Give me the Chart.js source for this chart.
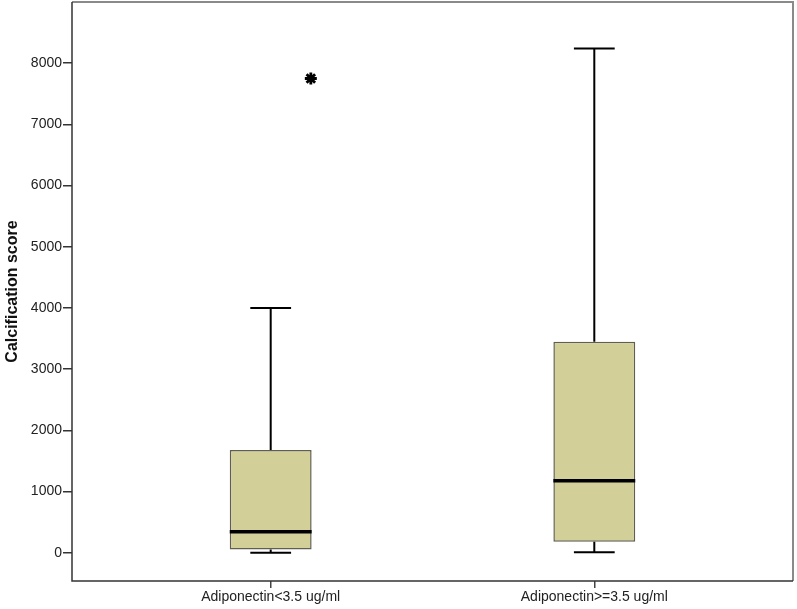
<!DOCTYPE html>
<html lang="en">
<head>
    <meta charset="UTF-8">
    <title>Calcification score by adiponectin</title>
    <style>
        html, body { margin: 0; padding: 0; background: #fff; }
    </style>
</head>
<body>
<canvas id="myChart" width="797" height="609"></canvas>

<script src="https://cdn.jsdelivr.net/npm/chart.js@4/dist/chart.umd.min.js"></script>
<script>
    // ------------------------------------------------------------------ data

    var groups = ['Adiponectin<3.5 ug/ml', 'Adiponectin>=3.5 ug/ml']
    var whiskerLow = [0, 10]
    var q1 = [55, 180]
    var median = [343, 1176]
    var q3 = [1680, 3448]
    var whiskerHigh = [4000, 8240]
    var outliers = [[7750], []]
    var yTicks = [0, 1000, 2000, 3000, 4000, 5000, 6000, 7000, 8000]

    // ----------------------------------------------------------------- style

    var boxHalf = 0.1265    // half box width, in category units
    var capHalf = 0.063     // half whisker cap width
    var outlierShift = 0.124
    var boxFill = '#d3cf99'
    var boxEdge = '#5f5f50'
    var font = 'Liberation Sans, Arial, sans-serif'

    // ------------------------------------------------------- build segments

    var whiskerPts = []
    var capPts = []
    var medianPts = []
    var boxPts = []
    var outlierPts = []

    groups.forEach(function (g, i) {
      var x = i + 1
      boxPts.push({ x: x, y: [q1[i], q3[i]] })
      whiskerPts.push({ x: x, y: q3[i] }, { x: x, y: whiskerHigh[i] }, { x: x, y: null })
      whiskerPts.push({ x: x, y: whiskerLow[i] }, { x: x, y: q1[i] }, { x: x, y: null })
      capPts.push({ x: x - capHalf, y: whiskerHigh[i] }, { x: x + capHalf, y: whiskerHigh[i] }, { x: x, y: null })
      capPts.push({ x: x - capHalf, y: whiskerLow[i] }, { x: x + capHalf, y: whiskerLow[i] }, { x: x, y: null })
      medianPts.push({ x: x - boxHalf, y: median[i] }, { x: x + boxHalf, y: median[i] }, { x: x, y: null })
      outliers[i].forEach(function (v) {
        outlierPts.push({ x: x + outlierShift, y: v })
      })
    })

    // frame round the plot area
    var framePlugin = {
      id: 'frame',
      afterDraw: function (chart) {
        var a = chart.chartArea
        var c = chart.ctx
        c.save()
        c.strokeStyle = '#8a8a8a'
        c.lineWidth = 2
        c.beginPath()
        c.moveTo(a.left, a.top)
        c.lineTo(a.right, a.top)
        c.lineTo(a.right, a.bottom)
        c.stroke()
        c.strokeStyle = '#333'
        c.lineWidth = 1.5
        c.beginPath()
        c.moveTo(a.left, a.top)
        c.lineTo(a.left, a.bottom)
        c.lineTo(a.right, a.bottom)
        c.stroke()
        c.restore()
      }
    }

    var lineDs = function (pts, width) {
      return {
        type: 'line',
        data: pts,
        borderColor: '#000',
        borderWidth: width,
        pointRadius: 0,
        spanGaps: false,
        fill: false,
        order: 0
      }
    }

    var noPad = function (axis) {
      axis.paddingTop = 0
      axis.paddingBottom = 0
      axis.paddingLeft = 0
      axis.paddingRight = 0
    }

    var ctx = document.getElementById('myChart').getContext('2d')
    var myChart = new Chart(ctx, {
      type: 'bar',
      data: {
        datasets: [
          {
            type: 'bar',
            data: boxPts,
            backgroundColor: boxFill,
            borderColor: boxEdge,
            borderWidth: 1.5,
            borderSkipped: false,
            barPercentage: boxHalf * 2,
            categoryPercentage: 1,
            order: 2
          },
          lineDs(whiskerPts, 2),
          lineDs(capPts, 2),
          lineDs(medianPts, 3.5),
          {
            type: 'scatter',
            data: outlierPts,
            pointStyle: 'star',
            pointRadius: 6,
            borderColor: '#000',
            borderWidth: 2.8,
            backgroundColor: '#000',
            order: 0
          }
        ]
      },
      options: {
        responsive: false,
        animation: false,
        layout: { autoPadding: false, padding: { top: 2, right: 4, left: 0, bottom: 0 } },
        plugins: {
          legend: { display: false },
          tooltip: { enabled: false }
        },
        scales: {
          x: {
            type: 'linear',
            offset: false,
            min: 0.386,
            max: 2.614,
            afterBuildTicks: function (axis) {
              axis.ticks = groups.map(function (g, i) { return { value: i + 1 } })
            },
            afterFit: function (axis) { axis.height = 28; noPad(axis) },
            grid: { offset: false, drawOnChartArea: false, tickLength: 7, color: '#444', lineWidth: 1.5 },
            border: { display: false },
            ticks: {
              color: '#222',
              padding: 1,
              maxRotation: 0,
              font: { family: font, size: 14 },
              callback: function (v) { return groups[v - 1] }
            }
          },
          y: {
            min: -460,
            max: 9000,
            afterBuildTicks: function (axis) {
              axis.ticks = yTicks.map(function (v) { return { value: v } })
            },
            afterFit: function (axis) { axis.width = 72; noPad(axis) },
            grid: { drawOnChartArea: false, tickLength: 9, color: '#333', lineWidth: 1.5 },
            border: { display: false },
            ticks: {
              color: '#222',
              padding: 1,
              font: { family: font, size: 14 },
              callback: function (v) { return String(v) }
            },
            title: {
              display: true,
              text: 'Calcification score',
              color: '#111',
              padding: { top: 3, bottom: 0 },
              font: { family: font, size: 16, weight: 'bold' }
            }
          }
        }
      },
      plugins: [framePlugin]
    })
</script>
</body>
</html>
